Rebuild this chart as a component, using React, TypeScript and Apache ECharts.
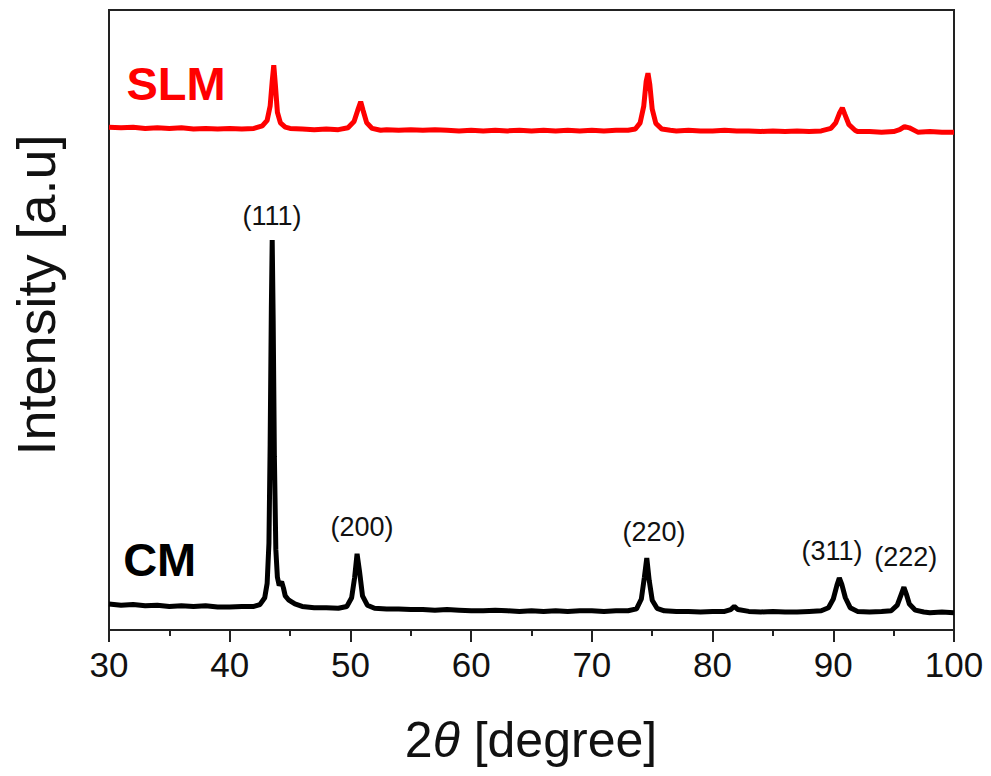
import React, { useEffect, useRef } from "react";
import * as echarts from "echarts";

const xMin = 30;
const xMax = 100;
const xStep = 10;

// CM pattern: [2θ, intensity]
const cmData: [number, number][] = [
  [30, 4.2], [31, 4.0], [32, 4.1], [33, 3.9], [34, 4.0], [35, 3.8], [36, 3.9], [37, 3.8],
  [38, 3.9], [39, 3.7], [40, 3.7], [41, 3.8], [42, 3.8], [42.5, 4.1], [42.9, 5.2], [43.1, 7.5],
  [43.25, 14], [43.35, 30], [43.45, 52], [43.52, 62.9], [43.6, 50], [43.7, 28], [43.82, 13],
  [43.95, 8.5], [44.1, 7.2], [44.3, 7.8], [44.45, 6.8], [44.6, 5.5], [44.9, 4.8], [45.4, 4.2],
  [46, 3.8], [47, 3.6], [48, 3.6], [49, 3.5], [49.7, 3.8], [50.1, 5.2], [50.35, 8.5],
  [50.55, 12.3], [50.75, 9.5], [51, 5.5], [51.4, 4.0], [52, 3.5], [53, 3.4], [54, 3.4],
  [55, 3.3], [56, 3.3], [57, 3.2], [58, 3.3], [59, 3.2], [60, 3.1], [61, 3.1], [62, 3.2],
  [63, 3.1], [64, 3.0], [65, 3.1], [66, 3.0], [67, 3.1], [68, 3.0], [69, 3.1], [70, 3.1],
  [71, 3.0], [72, 3.1], [73, 3.1], [73.7, 3.4], [74.1, 5.0], [74.35, 8.5], [74.55, 11.6],
  [74.75, 8.0], [75.0, 4.8], [75.4, 3.5], [76, 3.1], [77, 3.0], [78, 3.0], [79, 2.9],
  [80, 3.0], [81, 3.0], [81.5, 3.3], [81.8, 3.8], [82.1, 3.3], [83, 3.0], [84, 2.9],
  [85, 3.0], [86, 2.9], [87, 2.9], [88, 3.0], [89, 3.1], [89.6, 3.6], [90.0, 5.0],
  [90.3, 7.2], [90.5, 8.4], [90.7, 7.4], [91.0, 5.2], [91.4, 3.6], [92, 3.0], [93, 2.9],
  [94, 3.0], [94.8, 3.1], [95.3, 4.0], [95.6, 5.6], [95.85, 6.9], [96.05, 5.8], [96.3, 4.2],
  [96.8, 3.2], [97.5, 2.9], [98, 2.8], [99, 2.9], [100, 2.8],
];

// SLM pattern (vertically offset): [2θ, intensity]
const slmData: [number, number][] = [
  [30, 81.1], [31, 81.0], [32, 81.1], [33, 80.9], [34, 81.0], [35, 80.9], [36, 81.0],
  [37, 80.8], [38, 80.9], [39, 80.8], [40, 80.9], [41, 80.8], [42, 80.9], [42.7, 81.3],
  [43.1, 82.2], [43.35, 84.5], [43.52, 88.5], [43.65, 91.1], [43.78, 88.0], [43.95, 83.5],
  [44.2, 81.8], [44.6, 81.1], [45, 80.9], [46, 80.8], [47, 80.7], [48, 80.8], [49, 80.7],
  [49.8, 81.0], [50.3, 82.0], [50.6, 83.8], [50.85, 85.2], [51.05, 83.8], [51.35, 81.8],
  [51.8, 80.9], [52.5, 80.6], [53, 80.7], [54, 80.6], [55, 80.7], [56, 80.6], [57, 80.7],
  [58, 80.6], [59, 80.5], [60, 80.6], [61, 80.5], [62, 80.6], [63, 80.5], [64, 80.6],
  [65, 80.5], [66, 80.6], [67, 80.5], [68, 80.6], [69, 80.5], [70, 80.6], [71, 80.5],
  [72, 80.6], [73, 80.6], [73.6, 80.8], [74.0, 81.8], [74.3, 84.5], [74.5, 88.5],
  [74.65, 89.8], [74.8, 88.0], [75.0, 84.0], [75.3, 81.7], [75.8, 80.8], [76.5, 80.6],
  [77, 80.5], [78, 80.6], [79, 80.5], [80, 80.5], [81, 80.6], [82, 80.5], [83, 80.5],
  [84, 80.4], [85, 80.5], [86, 80.4], [87, 80.5], [88, 80.4], [89, 80.5], [89.8, 80.9],
  [90.2, 81.8], [90.5, 83.3], [90.75, 84.2], [90.95, 83.2], [91.3, 81.5], [91.8, 80.6],
  [92, 80.4], [93, 80.4], [94, 80.3], [95, 80.4], [95.5, 80.7], [95.9, 81.2], [96.3, 81.0],
  [96.8, 80.5], [97, 80.3], [98, 80.4], [99, 80.3], [100, 80.3],
];

const peakNames = ["(111)", "(200)", "(220)", "(311)", "(222)"];
const peakLabelX = [43.5, 50.96, 75.15, 89.9, 96.0];
const peakLabelY = [66.8, 16.6, 15.8, 12.7, 11.8];

const sampleNames = ["SLM", "CM"];
const sampleColors = ["#ff0000", "#000000"];
const sampleLabelX = [35.55, 34.2];
const sampleLabelY = [88.1, 11.3];

const FONT = "'Liberation Sans', Arial, Helvetica, sans-serif";

export default function App() {
  const ref = useRef<HTMLDivElement>(null);

  useEffect(() => {
    document.body.style.margin = "0";
    if (!ref.current) return;
    const chart = echarts.init(ref.current, undefined, { renderer: "svg" });

    const option: any = {
      animation: false,
      backgroundColor: "#ffffff",
      grid: {
        left: 109,
        right: 37,
        top: 10,
        bottom: 146,
        show: true,
        borderColor: "#222",
        borderWidth: 2,
        backgroundColor: "transparent",
      },
      xAxis: {
        type: "value",
        min: xMin,
        max: xMax,
        interval: xStep,
        axisLine: { show: true, onZero: false, lineStyle: { color: "#222", width: 2 } },
        axisTick: { show: true, inside: false, length: 12, lineStyle: { color: "#222", width: 2 } },
        minorTick: { show: true, splitNumber: 2, length: 6, lineStyle: { color: "#222", width: 2 } },
        axisLabel: { color: "#111", fontSize: 35, fontFamily: FONT, margin: 17 },
        splitLine: { show: false },
        minorSplitLine: { show: false },
      },
      yAxis: {
        type: "value",
        min: 0,
        max: 100,
        axisLine: { show: true, lineStyle: { color: "#222", width: 2 } },
        axisTick: { show: false },
        axisLabel: { show: false },
        splitLine: { show: false },
      },
      graphic: [
        {
          type: "text",
          x: 36,
          y: 295,
          rotation: Math.PI / 2,
          style: {
            text: "Intensity [a.u]",
            fontSize: 54,
            fontFamily: FONT,
            fill: "#111",
            align: "center",
            verticalAlign: "middle",
          },
        },
        {
          type: "text",
          x: 531,
          y: 740,
          style: {
            text: "{n|2}{t|θ}{n| [degree]}",
            align: "center",
            verticalAlign: "middle",
            rich: {
              n: { fontSize: 50, fontFamily: FONT, fill: "#111" },
              t: { fontSize: 50, fontFamily: FONT, fontStyle: "italic", fill: "#111" },
            },
          },
        },
      ],
      series: [
        {
          type: "line",
          name: "SLM",
          data: slmData,
          showSymbol: false,
          symbol: "none",
          lineStyle: { color: "#ff0000", width: 5 },
          z: 2,
          silent: true,
        },
        {
          type: "line",
          name: "CM",
          data: cmData,
          showSymbol: false,
          symbol: "none",
          lineStyle: { color: "#000000", width: 5 },
          z: 3,
          silent: true,
        },
        {
          type: "scatter",
          name: "peaks",
          silent: true,
          symbolSize: 1,
          itemStyle: { color: "rgba(0,0,0,0)", opacity: 1 },
          data: peakNames.map((n, i) => ({ value: [peakLabelX[i], peakLabelY[i]], name: n })),
          label: {
            show: true,
            position: "inside",
            formatter: (p: any) => p.name,
            fontSize: 27,
            fontFamily: FONT,
            color: "#111",
          },
          z: 5,
        },
        {
          type: "scatter",
          name: "samples",
          silent: true,
          symbolSize: 1,
          itemStyle: { color: "rgba(0,0,0,0)", opacity: 1 },
          data: sampleNames.map((n, i) => ({
            value: [sampleLabelX[i], sampleLabelY[i]],
            name: n,
            label: { color: sampleColors[i] },
          })),
          label: {
            show: true,
            position: "inside",
            formatter: (p: any) => p.name,
            fontSize: 47,
            fontWeight: "bold",
            fontFamily: FONT,
          },
          z: 5,
        },
      ],
    };

    chart.setOption(option);
    return () => chart.dispose();
  }, []);

  return <div ref={ref} style={{ width: 991, height: 776 }} />;
}
